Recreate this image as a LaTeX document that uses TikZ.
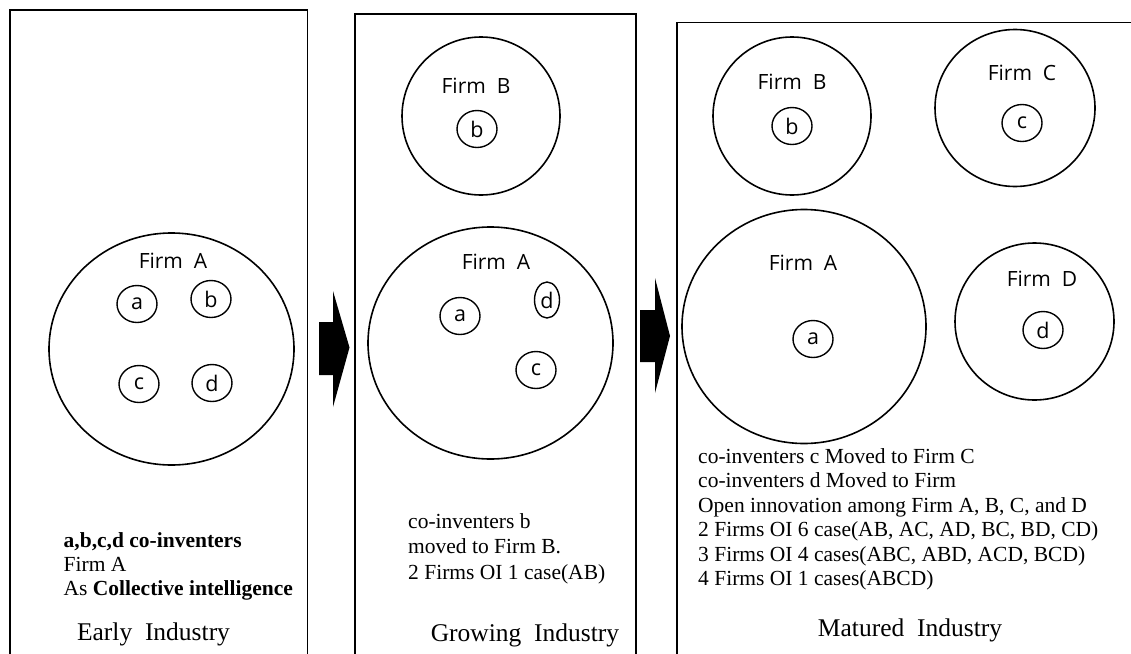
\documentclass[tikz,border=0pt]{standalone}
\usepackage{fontspec}
\setmainfont{Liberation Serif}
\newfontfamily\firmfont{Open Sans}
\usetikzlibrary{shapes.geometric}
\begin{document}
\begin{tikzpicture}[x=1pt,y=-1pt,
  panel/.style={draw, line width=1.8pt},
  firm/.style={draw, ellipse, line width=1.6pt, inner sep=0pt},
  inv/.style={draw, ellipse, line width=1.4pt, inner sep=0pt, minimum width=40pt, minimum height=37pt, font=\firmfont\fontsize{21.5}{24}\selectfont},
  firmlabel/.style={anchor=base, inner sep=0pt, font=\firmfont\fontsize{21}{24}\selectfont},
  body/.style={anchor=base west, inner sep=0pt, font=\fontsize{21.5}{26}\selectfont},
  caption/.style={anchor=base, inner sep=0pt, font=\fontsize{25.5}{30}\selectfont},
  bigarrow/.style={fill=black}
]
\useasboundingbox (0,0) rectangle (1131,653);
\clip (0,0) rectangle (1131,653);
\fill[white] (0,0) rectangle (1131,653);

% panels
\draw[panel] (10,10) rectangle (307.5,690);
\draw[panel] (355,14) rectangle (636,690);
\draw[panel] (677,22.5) rectangle (1170,690);

% arrows
\fill[bigarrow] (319,322) -- (333,322) -- (333,291) -- (349.5,347.5) -- (333,407) -- (333,375) -- (319,375) -- cycle;
\fill[bigarrow] (640,310) -- (655,310) -- (655,278) -- (670,336) -- (655,393) -- (655,362) -- (640,362) -- cycle;

% Panel 1: Early Industry
\node[firm, minimum width=245pt, minimum height=232pt] (A1) at (171.5,349) {};
\node[firmlabel] (A1l) at (173,268) {Firm\ \ A};
\node[inv] (a1) at (137,304) {a};
\node[inv] (b1) at (211,299) {b};
\node[inv] (c1) at (139,384) {c};
\node[inv] (d1) at (212,383) {d};
\node[body] (t11) at (63.5,547) {\textbf{a,b,c,d co-inventers}};
\node[body] (t12) at (63.5,571) {Firm A};
\node[body] (t13) at (63.5,595) {As \textbf{Collective intelligence}};
\node[caption] (cap1) at (153.5,640) {Early\ \ Industry};

% Panel 2: Growing Industry
\node[firm, minimum width=158pt, minimum height=158pt] (B2) at (481,116) {};
\node[firmlabel] (B2l) at (476,93.5) {Firm\ \ B};
\node[inv] (b2) at (477,129) {b};
\node[firm, minimum width=245pt, minimum height=232pt] (A2) at (490.5,343) {};
\node[firmlabel] (A2l) at (496,269.5) {Firm\ \ A};
\node[inv] (a2) at (460,316) {a};
\node[inv, minimum width=25pt, minimum height=36pt] (d2) at (547,300) {d};
\node[inv] (c2) at (536,370) {c};
\node[body] (t21) at (408,528) {co-inventers b};
\node[body] (t22) at (408,553.5) {moved to Firm B.};
\node[body] (t23) at (408,579) {2 Firms OI 1 case(AB)};
\node[caption] (cap2) at (525,641) {Growing\ \ Industry};

% Panel 3: Matured Industry
\node[firm, minimum width=158pt, minimum height=158pt] (B3) at (792,116) {};
\node[firmlabel] (B3l) at (792,89.5) {Firm\ \ B};
\node[inv] (b3) at (792,126) {b};
\node[firm, minimum width=160pt, minimum height=157pt] (C3) at (1015,108) {};
\node[firmlabel] (C3l) at (1022,80.5) {Firm\ \ C};
\node[inv] (c3) at (1022,123) {c};
\node[firm, minimum width=244pt, minimum height=234pt] (A3) at (804,326.5) {};
\node[firmlabel] (A3l) at (803,270.5) {Firm\ \ A};
\node[inv] (a3) at (813,339) {a};
\node[firm, minimum width=159pt, minimum height=157pt] (D3) at (1034.5,321.5) {};
\node[firmlabel] (D3l) at (1042,286.5) {Firm\ \ D};
\node[inv] (d3) at (1043,330) {d};
\node[body] (t31) at (698,463) {co-inventers c Moved to Firm C};
\node[body] (t32) at (698,487.5) {co-inventers d Moved to Firm};
\node[body] (t33) at (698,512) {Open innovation among Firm A, B, C, and D};
\node[body] (t34) at (698,536.5) {2 Firms OI 6 case(AB, AC, AD, BC, BD, CD)};
\node[body] (t35) at (698,561) {3 Firms OI 4 cases(ABC, ABD, ACD, BCD)};
\node[body] (t36) at (698,585.5) {4 Firms OI 1 cases(ABCD)};
\node[caption] (cap3) at (910,636) {Matured\ \ Industry};
\end{tikzpicture}
\end{document}
